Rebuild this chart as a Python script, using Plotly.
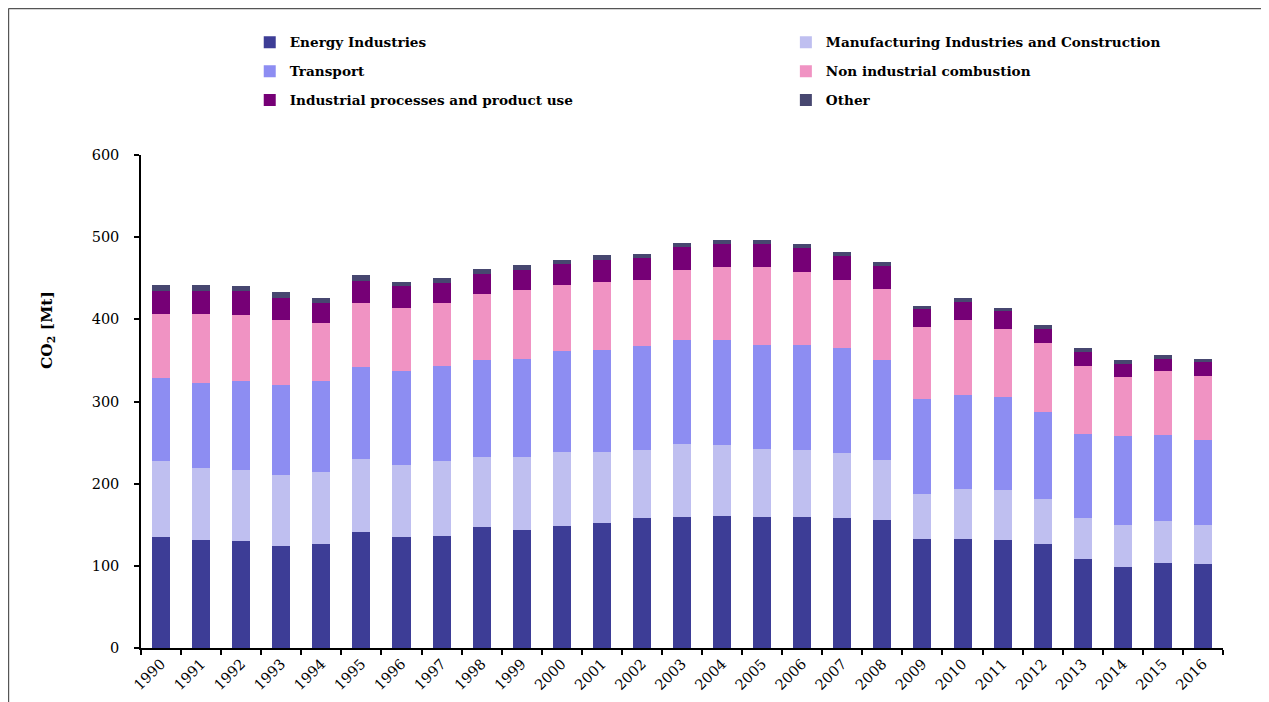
import plotly.graph_objects as go

years = [str(y) for y in range(1990, 2017)]

energy = [135, 131, 130, 124, 126.6, 141, 135, 136, 147, 143.6, 148.5, 152, 158, 159.4, 160.6,
          159.4, 159.4, 158, 155.8, 132.6, 132.6, 131.4, 126.6, 108.3, 98.6, 103.4, 102.2]
manufacturing = [93, 88, 86.4, 86.4, 87.6, 88.8, 87.6, 91.3, 85, 88.8, 90, 86.4, 82.8, 88.9, 86.4,
                 82.8, 81.6, 79, 73, 54.8, 60.9, 60.9, 54.7, 49.9, 51.1, 51.2, 47.5]
transport = [100.6, 103.5, 108.4, 109.5, 110.8, 112, 114.4, 115.6, 118, 119.3, 123, 124.2, 126.5, 126.5, 127.8,
             126.5, 127.7, 127.8, 121.7, 115.6, 114.4, 113.2, 105.9, 102.2, 108.3, 104.6, 103.4]
non_industrial = [78, 84, 80.3, 79.2, 70.5, 77.9, 76.7, 76.7, 80.3, 84, 80.4, 82.7, 80.3, 85.2, 88.9,
                  95, 88.9, 82.7, 86.4, 87.7, 91.3, 82.7, 84, 82.8, 71.8, 77.9, 77.9]
industrial_processes = [28.3, 28.3, 29.2, 27.1, 24.4, 26.7, 26.7, 24.3, 24.4, 24.3, 25.5, 26.8, 26.8, 28, 28,
                        28, 29.2, 29.2, 28, 21.9, 21.9, 21.9, 17, 17, 15.5, 14.6, 17.1]
other = [7, 7, 6, 7, 6, 7.4, 5, 6, 6, 6, 5, 6, 5, 5, 5,
         5, 5, 5, 5, 4, 5, 4, 5, 5, 5, 5, 4]

y_title = "CO<sub>2</sub> [Mt]"

series = [
    ("Energy Industries", energy, "#3d3d96", "legend"),
    ("Manufacturing Industries and Construction", manufacturing, "#bfbff0", "legend2"),
    ("Transport", transport, "#8d8df2", "legend"),
    ("Non industrial combustion", non_industrial, "#f093c3", "legend2"),
    ("Industrial processes and product use", industrial_processes, "#760076", "legend"),
    ("Other", other, "#474770", "legend2"),
]

fig = go.Figure()
for name, vals, color, leg in series:
    fig.add_trace(go.Bar(
        x=years, y=vals, name=name,
        marker=dict(color=color, line=dict(width=0)),
        legend=leg, legendgroup=name,
    ))

FONT = "DejaVu Serif"
legend_font = dict(family=FONT, size=13.6, color="black", weight="bold")

fig.update_layout(
    barmode="stack",
    bargap=0.55,
    width=1269, height=702,
    paper_bgcolor="white", plot_bgcolor="white",
    margin=dict(l=133, r=54, t=147, b=62),
    font=dict(family=FONT, color="black"),
    legend=dict(x=0.1005, y=1.260, xanchor="left", yanchor="top",
                orientation="v", tracegroupgap=8.3, font=legend_font,
                bgcolor="rgba(0,0,0,0)"),
    legend2=dict(x=0.596, y=1.260, xanchor="left", yanchor="top",
                 orientation="v", tracegroupgap=8.3, font=legend_font,
                 bgcolor="rgba(0,0,0,0)"),
    xaxis=dict(
        type="category", tickson="boundaries", ticks="outside", ticklen=5,
        tickwidth=1.5, tickcolor="black",
        showline=True, linecolor="black", linewidth=1.5,
        tickangle=-45, tickfont=dict(family=FONT, size=14.5, color="black"),
        showgrid=False,
    ),
    yaxis=dict(
        range=[0, 600], dtick=100, ticks="outside", ticklen=5,
        tickwidth=1.5, tickcolor="black",
        showline=True, linecolor="black", linewidth=1.5,
        showgrid=False, zeroline=False,
        tickfont=dict(family=FONT, size=14.5, color="black"),
        ticklabelstandoff=12,
    ),
    annotations=[
        dict(text=y_title, textangle=-90, xref="paper", yref="paper",
             x=-0.0869, y=0.645, xanchor="center", yanchor="middle",
             showarrow=False,
             font=dict(family=FONT, size=15.5, color="black", weight="bold")),
    ],
    shapes=[
        dict(type="line", xref="paper", yref="paper",
             x0=-0.1225, x1=-0.1225, y0=-0.2, y1=1.297,
             line=dict(color="#555555", width=1.5)),
        dict(type="line", xref="paper", yref="paper",
             x0=-0.1225, x1=1.1, y0=1.297, y1=1.297,
             line=dict(color="#555555", width=1.5)),
    ],
)

fig.write_html("out.html")
